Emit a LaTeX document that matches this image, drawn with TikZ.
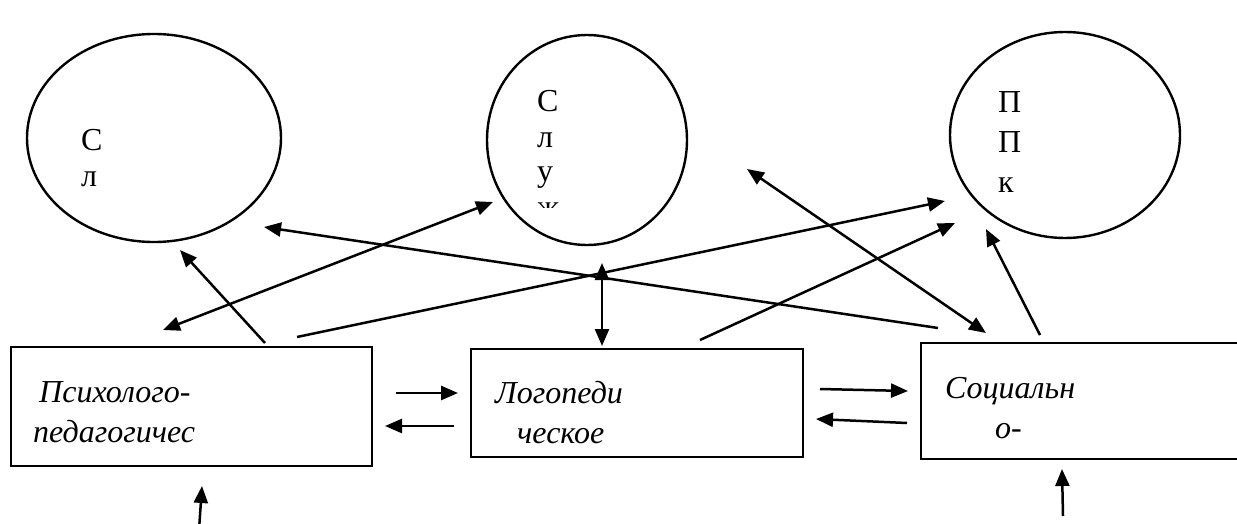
\documentclass[tikz,border=0pt]{standalone}
\usepackage{fontspec}
\setmainfont{Liberation Serif}
\newfontfamily\tms{Liberation Serif}
\usetikzlibrary{arrows.meta,shapes.geometric}
\begin{document}
\begin{tikzpicture}[x=1pt,y=-1pt,
  circ/.style={draw,ellipse,line width=2.4pt,inner sep=0pt},
  box/.style={draw,rectangle,line width=2.8pt,inner sep=0pt},
  tip/.tip={Triangle[length=17pt,width=14pt]},
  conn/.style={line width=2.5pt,-tip},
  dconn/.style={line width=2.5pt,tip-tip},
  lab/.style={font=\tms\fontsize{32}{36}\selectfont\itshape,anchor=base west,inner sep=0pt},
  letr/.style={font=\tms\fontsize{32}{36}\selectfont,anchor=base west,inner sep=0pt}]
\useasboundingbox (0,0) rectangle (1237,524);
\fill[white] (0,0) rectangle (1237,524);

% ellipses
\node[circ,minimum width=254pt,minimum height=208pt] (e1) at (154,138) {};
\node[circ,minimum width=200pt,minimum height=210pt] (e2) at (587,140) {};
\node[circ,minimum width=230pt,minimum height=206pt] (e3) at (1065,135) {};

% ellipse letters
\node[letr] (t1a) at (81,150) {С};
\node[letr] (t1b) at (81,186) {л};
\node[letr] (t2a) at (537,112) {С};
\node[letr] (t2b) at (537,147) {л};
\node[letr] (t2c) at (537,182) {у};
\begin{scope}
  \clip (520,150) rectangle (600,207);
  \node[letr] (t2d) at (537,217) {ж};
\end{scope}
\node[letr] (t3a) at (998,113) {П};
\node[letr] (t3b) at (998,153) {П};
\node[letr] (t3c) at (998,193) {к};

% boxes
\node[box,minimum width=361pt,minimum height=119pt] (b1) at (191.5,406.5) {};
\node[box,minimum width=332pt,minimum height=108pt] (b2) at (637,403) {};
\node[box,minimum width=339pt,minimum height=116pt] (b3) at (1090.5,401) {};

\node[lab] (l1a) at (39,402) {Психолого-};
\node[lab] (l1b) at (33,442) {педагогичес};
\node[lab] (l2a) at (495,403) {Логопеди};
\node[lab] (l2b) at (517,443) {ческое};
\node[lab] (l3a) at (945,398) {Социальн};
\node[lab] (l3b) at (995,438) {о-};

% connector end points
\coordinate (p1) at (265,343);  \coordinate (q1) at (180,250);
\coordinate (p2) at (163,330);  \coordinate (q2) at (493,202);
\coordinate (p3) at (297,337);  \coordinate (q3) at (945,201);
\coordinate (p4) at (938,328);  \coordinate (q4) at (264,227);
\coordinate (p5) at (700,340);  \coordinate (q5) at (955,223);
\coordinate (p6) at (747,169);  \coordinate (q6) at (986,333);
\coordinate (p7) at (1040,335); \coordinate (q7) at (986,229);
\coordinate (p8) at (602,263);  \coordinate (q8) at (602,346);
\coordinate (h1s) at (396,393); \coordinate (h1e) at (458,393);
\coordinate (h2s) at (454,426); \coordinate (h2e) at (385,426);
\coordinate (h3s) at (820,389); \coordinate (h3e) at (908,391);
\coordinate (h4s) at (907,423); \coordinate (h4e) at (816,419);
\coordinate (u1s) at (199,530); \coordinate (u1e) at (202,486);
\coordinate (u3s) at (1063,516); \coordinate (u3e) at (1062,469);

\draw[conn] (p1) -- (q1);
\draw[dconn] (p2) -- (q2);
\draw[conn] (p3) -- (q3);
\draw[conn] (p4) -- (q4);
\draw[conn] (p5) -- (q5);
\draw[dconn] (p6) -- (q6);
\draw[conn] (p7) -- (q7);
\draw[dconn] (p8) -- (q8);
\draw[conn] (h1s) -- (h1e);
\draw[conn] (h2s) -- (h2e);
\draw[conn] (h3s) -- (h3e);
\draw[conn] (h4s) -- (h4e);
\draw[conn] (u1s) -- (u1e);
\draw[conn] (u3s) -- (u3e);
\end{tikzpicture}
\end{document}
